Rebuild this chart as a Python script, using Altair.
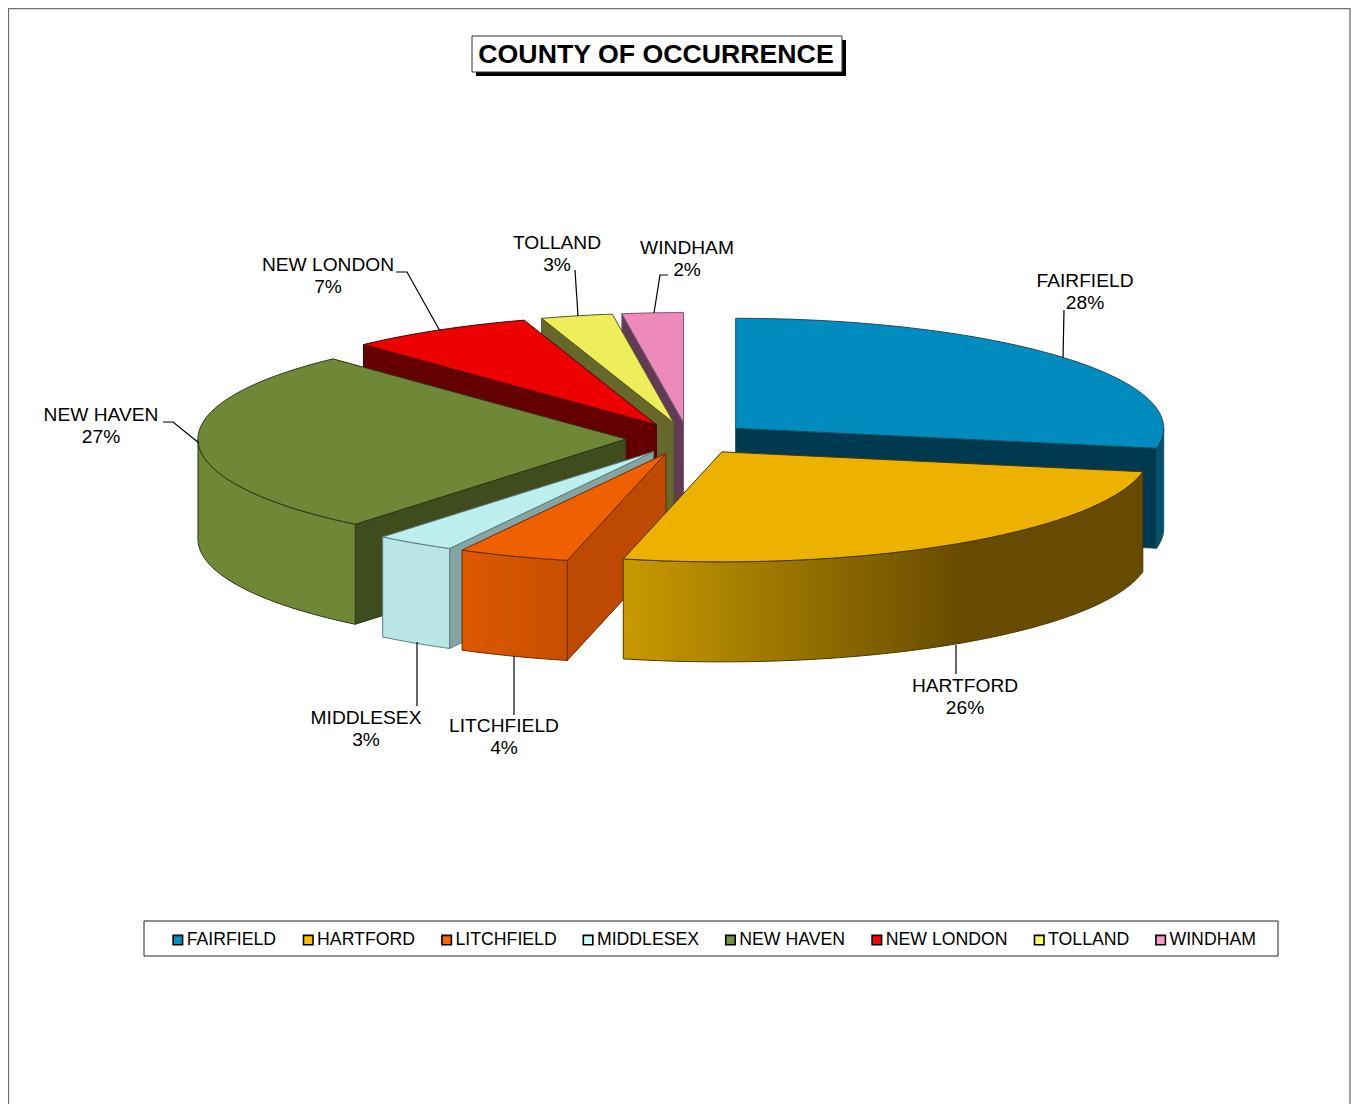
import math
import altair as alt
import pandas as pd

COUNTIES = ["FAIRFIELD", "HARTFORD", "LITCHFIELD", "MIDDLESEX", "NEW HAVEN", "NEW LONDON", "TOLLAND", "WINDHAM"]
VALUES = [27.9, 25.8, 4.2, 3.0, 27.1, 7.0, 2.7, 2.3]
PCT_LABELS = ["28%", "26%", "4%", "3%", "27%", "7%", "3%", "2%"]
LEGEND_COLORS = ["#0090C8", "#FFC000", "#FF6600", "#CCFFFF", "#77933C", "#FF0000", "#FFFF66", "#FF99CC"]
TOP_COLORS = ["#008CBE", "#EDB100", "#EE6000", "#BDEFEF", "#6F8837", "#EC0000", "#EEEE5A", "#EE8ABB"]
FACE_COLORS = ["#003A50", "#664B00", "#BD4A00", "#85A5A5", "#3F4C1E", "#650000", "#66682A", "#613B55"]
LINE_COLORS = ["#1F4A5C", "#4A3800", "#6A2C00", "#5F7F7F", "#2C3615", "#4A0000", "#55552A", "#7A5A70"]
SIDE_FILLS = [
    "#00536F",
    alt.Gradient(gradient="linear", x1=0, x2=1, y1=0, y2=0,
                 stops=[alt.GradientStop(color="#C89A00", offset=0),
                        alt.GradientStop(color="#664B00", offset=0.66),
                        alt.GradientStop(color="#664B00", offset=1)]),
    alt.Gradient(gradient="linear", x1=0, x2=1, y1=0, y2=0,
                 stops=[alt.GradientStop(color="#DD5800", offset=0),
                        alt.GradientStop(color="#C65000", offset=1)]),
    "#B8E6E6",
    "#6F8837",
    "#650000",
    "#66682A",
    "#613B55",
]
# back-to-front painting order
PAINT_ORDER = [7, 6, 5, 4, 3, 2, 0, 1]
NAME_POS = [(1085, 281), (965, 686), (504, 726), (366, 718), (101, 415), (328, 265), (557, 243), (687, 248)]
LEADERS = [
    [(1064, 310), (1063, 358)],
    [(956, 645), (956, 674)],
    [(514, 656), (514, 715)],
    [(417, 642), (417, 706)],
    [(163, 422), (173, 422), (199, 443)],
    [(396, 272), (407, 272), (440, 331)],
    [(575, 270), (578, 316)],
    [(668, 275), (660, 275), (654, 313)],
]

W, H = 1343, 1096
CX, CY = 688 - 8, 438.5 - 8
RX, RY, DEPTH, EXPLODE = 428, 110, 100, 0.145

x_enc = alt.X("x:Q", scale=alt.Scale(domain=[0, W], nice=False, zero=False), axis=None)
y_enc = alt.Y("y:Q", scale=alt.Scale(domain=[H, 0], nice=False, zero=False), axis=None)


def poly(points, fill, stroke, width=1.0):
    df = pd.DataFrame([{"x": p[0], "y": p[1], "i": k} for k, p in enumerate(points + points[:1])])
    return alt.Chart(df).mark_line(fill=fill, stroke=stroke, strokeWidth=width, strokeJoin="round",
                                   interpolate="linear").encode(x=x_enc, y=y_enc, order=alt.Order("i:Q"))


total = sum(VALUES)
layers = []
spans = []
start = 0.0
for v in VALUES:
    end = start + v / total * 360
    spans.append((start, end))
    start = end


def rim(ax, ay, deg, dy=0.0):
    t = math.radians(deg)
    return (ax + RX * math.sin(t), ay - RY * math.cos(t) + dy)


for idx in PAINT_ORDER:
    a0, a1 = spans[idx]
    mid = math.radians((a0 + a1) / 2)
    ax = CX + RX * EXPLODE * math.sin(mid)
    ay = CY - RY * EXPLODE * math.cos(mid)
    steps = max(2, int(a1 - a0))
    arc = [rim(ax, ay, a0 + (a1 - a0) * k / steps) for k in range(steps + 1)]
    # radial wall that faces the viewer
    wall_deg = a1 if a1 < 180 else a0
    if idx != 1:
        c = rim(ax, ay, wall_deg)
        layers.append(poly([(ax, ay), c, (c[0], c[1] + DEPTH), (ax, ay + DEPTH)], FACE_COLORS[idx], LINE_COLORS[idx]))
    # outer wall (front half only)
    s0, s1 = max(a0, 90), min(a1, 270)
    if s1 > s0:
        n = max(2, int(s1 - s0))
        upper = [rim(ax, ay, s0 + (s1 - s0) * k / n) for k in range(n + 1)]
        lower = [(p[0], p[1] + DEPTH) for p in reversed(upper)]
        layers.append(poly(upper + lower, SIDE_FILLS[idx], LINE_COLORS[idx]))
    # top face
    layers.append(poly([(ax, ay)] + arc, TOP_COLORS[idx], LINE_COLORS[idx]))

# leaders
leader_rows = []
for g, pts in enumerate(LEADERS):
    for k, (px, py) in enumerate(pts):
        leader_rows.append({"g": g, "i": k, "x": px - 8, "y": py - 8})
layers.append(alt.Chart(pd.DataFrame(leader_rows)).mark_line(color="#000000", strokeWidth=1.2).encode(
    x=x_enc, y=y_enc, detail="g:N", order=alt.Order("i:Q")))

# data labels
label_rows = []
for name, pct, (px, py) in zip(COUNTIES, PCT_LABELS, NAME_POS):
    label_rows.append({"t": name, "x": px - 8, "y": py - 8})
    label_rows.append({"t": pct, "x": px - 8, "y": py + 22 - 8})
layers.append(alt.Chart(pd.DataFrame(label_rows)).mark_text(
    font="Liberation Sans", fontSize=19.2, color="#000000", align="center", baseline="middle"
).encode(x=x_enc, y=y_enc, text="t:N"))

# title box
def box(x0, y0, x1, y1, **kw):
    df = pd.DataFrame([{"x": x0 - 8, "x2": x1 - 8, "y": y0 - 8, "y2": y1 - 8}])
    return alt.Chart(df).mark_rect(**kw).encode(x=x_enc, x2="x2:Q", y=y_enc, y2="y2:Q")

layers.append(box(476, 40, 846, 76, color="#000000"))
layers.append(box(472, 36, 842, 72, fill="#FFFFFF", stroke="#333333", strokeWidth=1))
layers.append(alt.Chart(pd.DataFrame([{"t": "COUNTY OF OCCURRENCE", "x": 656 - 8, "y": 55 - 8}])).mark_text(
    font="Liberation Sans", fontWeight="bold", fontSize=26.7, color="#000000", align="center", baseline="middle"
).encode(x=x_enc, y=y_enc, text="t:N"))

# legend box and legend
layers.append(box(144, 921, 1278, 956, fill="#FFFFFF", stroke="#222222", strokeWidth=1))
layers.append(alt.Chart(pd.DataFrame({"county": COUNTIES, "x": [0] * 8, "y": [0] * 8})).mark_square(opacity=0).encode(
    x=x_enc, y=y_enc,
    color=alt.Color("county:N", scale=alt.Scale(domain=COUNTIES, range=LEGEND_COLORS),
                    legend=alt.Legend(orient="none", legendX=161, legendY=923, direction="horizontal", columns=8,
                                      title=None, symbolType="square", symbolSize=90, symbolOpacity=1,
                                      symbolStrokeColor="#000000", symbolStrokeWidth=1.6,
                                      labelFont="Liberation Sans", labelFontSize=17.7, labelColor="#000000",
                                      labelOffset=0, columnPadding=22.4, padding=0, labelLimit=300)),
))

# outer frame (open at the bottom)
frame = pd.DataFrame({"x": [0.5, 0.5, W - 1, W - 1], "y": [H, 0.5, 0.5, H], "i": [0, 1, 2, 3]})
layers.append(alt.Chart(frame).mark_line(color="#707070", strokeWidth=1.3).encode(x=x_enc, y=y_enc, order=alt.Order("i:Q")))

chart = alt.layer(*layers).properties(
    width=W, height=H, padding=0, autosize=alt.AutoSizeParams(type="none"), background="#FFFFFF"
).configure_view(stroke=None)

chart.save("out.html", embed_options={"renderer": "svg", "actions": False})
